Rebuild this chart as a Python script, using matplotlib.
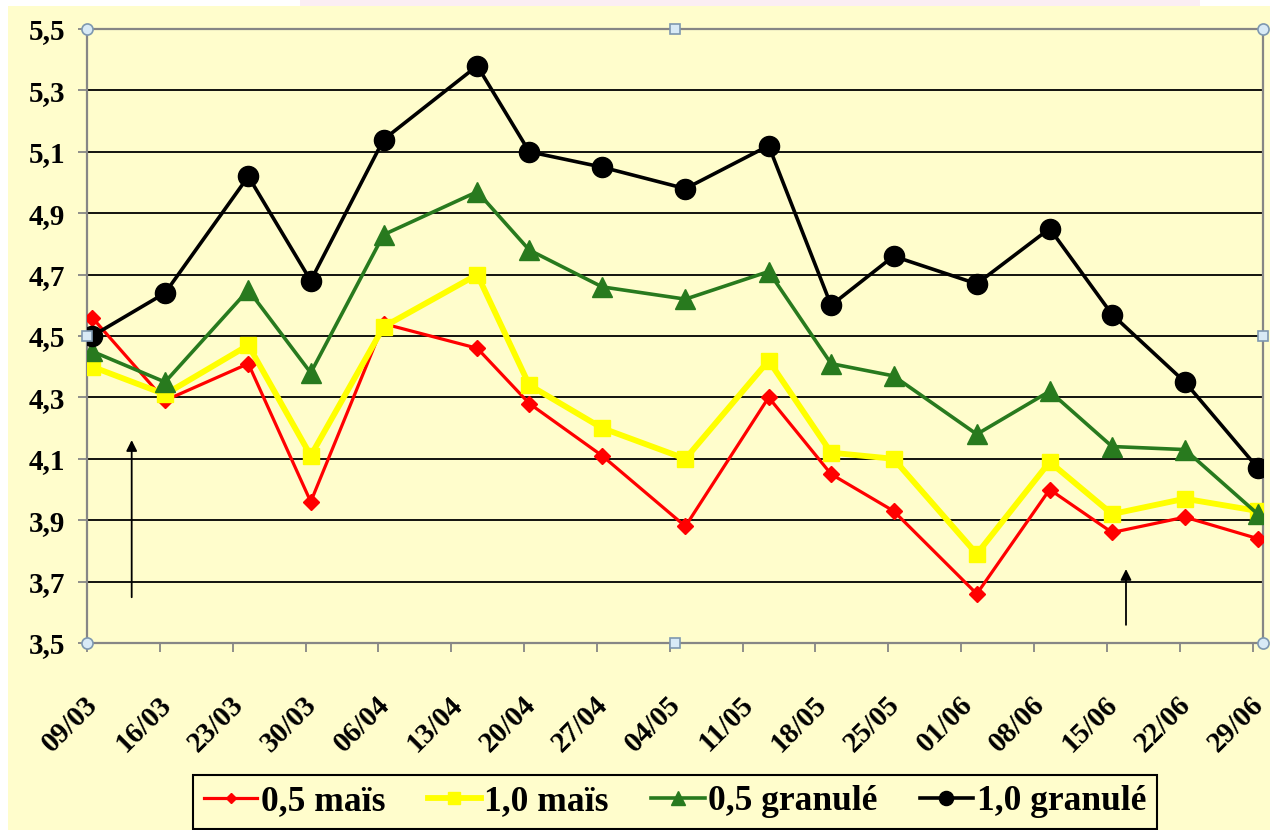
import numpy as np
import matplotlib.pyplot as plt
import matplotlib.dates as mdates
from matplotlib.patches import Rectangle
from matplotlib.transforms import ScaledTranslation

plt.rcParams['font.family'] = ['Liberation Serif', 'DejaVu Serif']
plt.rcParams['font.weight'] = 'bold'

# sampling dates (dd/mm) and values
dates = ['09/03', '16/03', '24/03', '30/03', '06/04', '15/04', '20/04', '27/04', '05/05',
         '13/05', '19/05', '25/05', '02/06', '09/06', '15/06', '22/06', '29/06']
mais_05 = [4.56, 4.29, 4.41, 3.96, 4.54, 4.46, 4.28, 4.11, 3.88,
           4.30, 4.05, 3.93, 3.66, 4.00, 3.86, 3.91, 3.84]
mais_10 = [4.40, 4.31, 4.47, 4.11, 4.53, 4.70, 4.34, 4.20, 4.10,
           4.42, 4.12, 4.10, 3.79, 4.09, 3.92, 3.97, 3.93]
gran_05 = [4.45, 4.35, 4.65, 4.38, 4.83, 4.97, 4.78, 4.66, 4.62,
           4.71, 4.41, 4.37, 4.18, 4.32, 4.14, 4.13, 3.92]
gran_10 = [4.50, 4.64, 5.02, 4.68, 5.14, 5.38, 5.10, 5.05, 4.98,
           5.12, 4.60, 4.76, 4.67, 4.85, 4.57, 4.35, 4.07]
labels = ['0,5 maïs', '1,0 maïs', '0,5 granulé', '1,0 granulé']
year = '2009'

bg = '#FFFDCC'
grey = '#868686'

day = np.array([np.datetime64(year + '-' + d[3:] + '-' + d[:2]) for d in dates])
# excel date axis, points sit in the middle of each day slot
x = day.astype('datetime64[h]') + np.timedelta64(12, 'h')
start = day[0]
ticks = np.arange(start, day[-1] + np.timedelta64(1, 'D'), np.timedelta64(7, 'D'))

fig = plt.figure(figsize=(12.7, 8.3), dpi=100)
fig.patch.set_facecolor('white')
fig.patches.append(Rectangle((8/1270, 0), 1, 1 - 6/830, transform=fig.transFigure,
                             facecolor=bg, edgecolor='none', zorder=-10))
fig.patches.append(Rectangle((300/1270, 1 - 6/830), 900/1270, 6/830, transform=fig.transFigure,
                             facecolor='#FBEEF3', edgecolor='none', zorder=-10))
ax = fig.add_axes([87/1270, 1 - 643/830, 1176/1270, 614/830])
ax.set_facecolor(bg)

ax.plot(x, mais_05, color='#FF0000', lw=2.3, marker='D', ms=8, label=labels[0], zorder=3)
ax.plot(x, mais_10, color='#FFFF00', lw=4.2, marker='s', ms=12, label=labels[1], zorder=4)
ax.plot(x, gran_05, color='#287A1E', lw=2.6, marker='^', ms=14, label=labels[2], zorder=5)
ax.plot(x, gran_10, color='#000000', lw=2.6, marker='o', ms=14.5, label=labels[3], zorder=6)

ax.set_ylim(3.5, 5.5)
ax.set_yticks(np.arange(3.5, 5.51, 0.2))
ax.yaxis.set_major_formatter(plt.FuncFormatter(lambda v, p: ('%.1f' % v).replace('.', ',')))
ax.set_xlim(start, start + np.timedelta64(113, 'D'))
ax.set_xticks(ticks)
ax.xaxis.set_major_formatter(mdates.DateFormatter('%d/%m'))

ax.grid(axis='y', color='black', lw=1.3, zorder=1)
ax.set_axisbelow(True)
for s in ax.spines.values():
    s.set_color(grey)
    s.set_linewidth(1.6)
ax.tick_params(axis='both', color=grey, width=1.3, length=6.5, labelsize=21)
ax.tick_params(axis='y', pad=9)
ax.tick_params(axis='x', pad=35)
for lab in ax.get_xticklabels():
    lab.set_rotation(45)
    lab.set_ha('right')
    lab.set_va('center')
    lab.set_rotation_mode('anchor')
    lab.set_transform(lab.get_transform() + ScaledTranslation(5/72, 0, fig.dpi_scale_trans))

# arrows
ax.annotate('', xy=(0.038, 4.17), xytext=(0.038, 3.64), xycoords=('axes fraction', 'data'),
            arrowprops=dict(arrowstyle='-|>', color='black', lw=1.3, mutation_scale=16))
ax.annotate('', xy=(0.8835, 3.75), xytext=(0.8835, 3.55), xycoords=('axes fraction', 'data'),
            arrowprops=dict(arrowstyle='-|>', color='black', lw=1.3, mutation_scale=16))

# selection handles of the plot area
hc = dict(mfc='#D8EAF6', mec='#7E98B0', mew=1.2, clip_on=False, zorder=10, transform=ax.transAxes)
ax.plot([0, 1, 0, 1], [0, 0, 1, 1], 'o', ms=8, ls='none', **hc)
ax.plot([0.5, 0.5, 1, 0], [0, 1, 0.5, 0.5], 's', ms=6.5, ls='none', **hc)

leg = fig.legend(loc='lower center', bbox_to_anchor=(675/1270, 1/830), ncol=4, fontsize=25.5,
                 frameon=True, fancybox=False, edgecolor='black', facecolor=bg, framealpha=1,
                 handlelength=1.5, handletextpad=0.1, columnspacing=1.2, borderpad=0.3,
                 borderaxespad=0, markerscale=0.7)
leg.get_frame().set_linewidth(1.5)

plt.savefig('out.png', dpi=100)
